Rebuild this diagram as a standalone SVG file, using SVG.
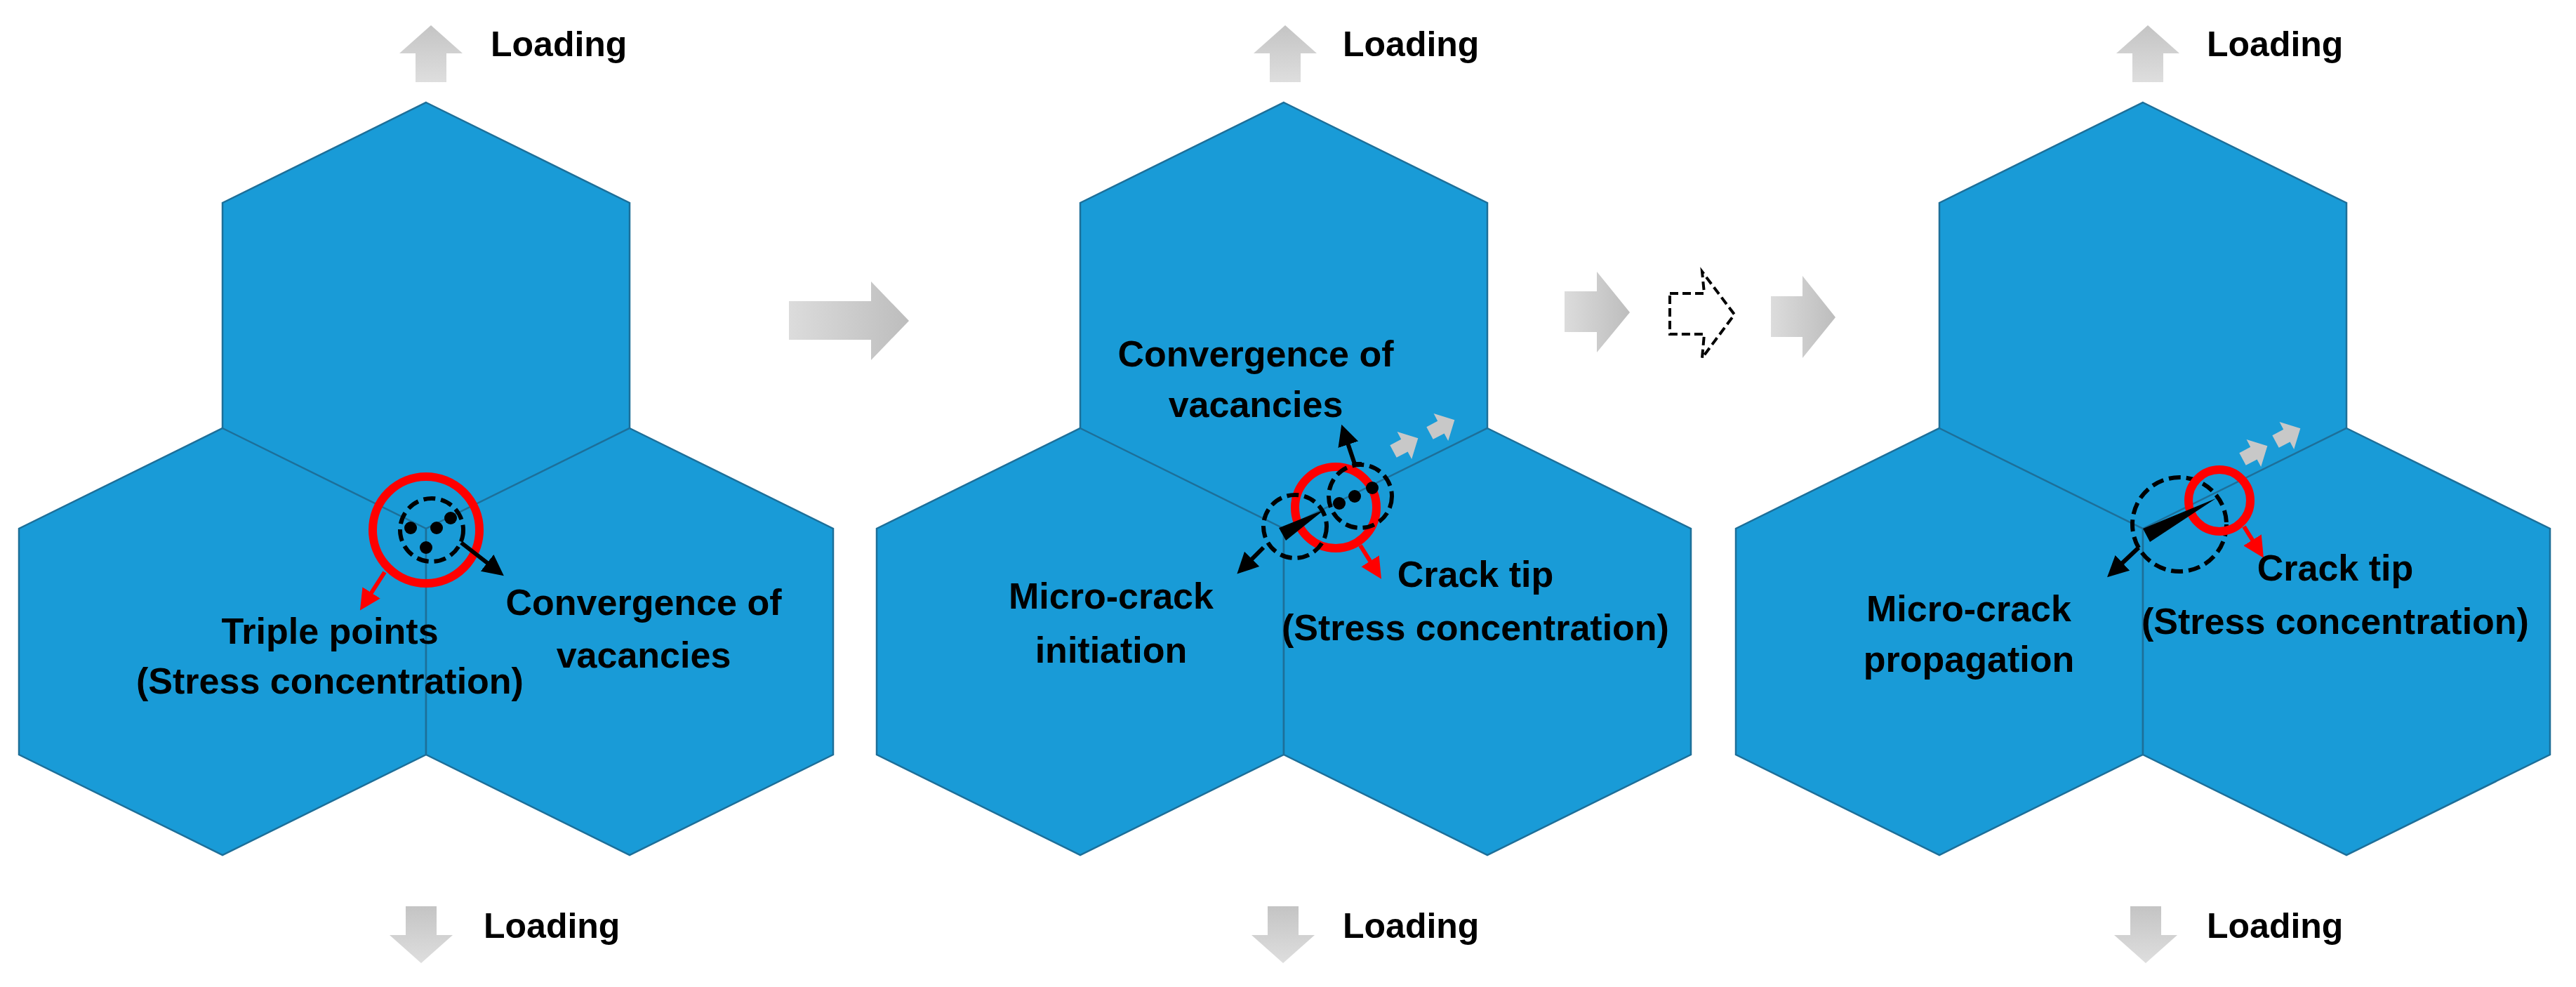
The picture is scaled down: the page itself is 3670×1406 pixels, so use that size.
<svg xmlns="http://www.w3.org/2000/svg" width="3670" height="1406" viewBox="0 0 3670 1406">
<style>
.hex{fill:#199bd7;stroke:#1d6f99;stroke-width:2.5}
.t{font-family:"Liberation Sans",Arial,sans-serif;font-weight:bold;font-size:52px;fill:#000;text-anchor:middle}
.ld{font-family:"Liberation Sans",Arial,sans-serif;font-weight:bold;font-size:50px;fill:#000}
.red{fill:none;stroke:#ff0000;stroke-width:12}
.dash{fill:none;stroke:#000;stroke-width:6;stroke-dasharray:17 8}
.ba{stroke:#000;stroke-width:6;fill:none}
.ra{stroke:#ff0000;stroke-width:6;fill:none}
.g{fill:url(#gh)}
.gv{fill:url(#gv)}
.sm{fill:#c8c8c8}
</style>
<defs>
<linearGradient id="gh" x1="0" x2="1" y1="0" y2="0"><stop offset="0" stop-color="#dcdcdc"/><stop offset="1" stop-color="#bdbdbd"/></linearGradient>
<linearGradient id="gv" x1="0" x2="0" y1="0" y2="1"><stop offset="0" stop-color="#c4c4c4"/><stop offset="1" stop-color="#dedede"/></linearGradient>
<marker id="mb" viewBox="0 0 10 10" refX="5" refY="5" markerWidth="5" markerHeight="5" orient="auto"><path d="M0,0 L10,5 L0,10 z" fill="#000"/></marker>
<marker id="mr" viewBox="0 0 10 10" refX="5" refY="5" markerWidth="5" markerHeight="5" orient="auto"><path d="M0,0 L10,5 L0,10 z" fill="#ff0000"/></marker>
<polygon id="hx" points="0,0 290,143 290,465 0,608 -290,465 -290,143"/>
<path id="upA" d="M-45,40 L0,0 L45,40 L22,40 L22,81 L-22,81 L-22,40 Z"/>
<path id="dnA" d="M-45,41 L0,81 L45,41 L22,41 L22,0 L-22,0 L-22,41 Z"/>
<path id="sa" d="M0,-10 L18,-10 L18,-22 L40,0 L18,22 L18,10 L0,10 Z"/>
</defs>

<g id="panel1">
<use href="#hx" class="hex" x="607" y="146"/>
<use href="#hx" class="hex" x="317" y="610"/>
<use href="#hx" class="hex" x="897" y="610"/>
</g>
<g id="panel2">
<use href="#hx" class="hex" x="1829" y="146"/>
<use href="#hx" class="hex" x="1539" y="610"/>
<use href="#hx" class="hex" x="2119" y="610"/>
</g>
<g id="panel3">
<use href="#hx" class="hex" x="3053" y="146"/>
<use href="#hx" class="hex" x="2763" y="610"/>
<use href="#hx" class="hex" x="3343" y="610"/>
</g>

<g id="loading">
<use href="#upA" class="gv" x="614" y="36"/><text class="ld" x="699" y="80">Loading</text>
<use href="#dnA" class="gv" x="600" y="1291"/><text class="ld" x="689" y="1336">Loading</text>
<use href="#upA" class="gv" x="1831" y="36"/><text class="ld" x="1913" y="80">Loading</text>
<use href="#dnA" class="gv" x="1828" y="1291"/><text class="ld" x="1913" y="1336">Loading</text>
<use href="#upA" class="gv" x="3060" y="36"/><text class="ld" x="3144" y="80">Loading</text>
<use href="#dnA" class="gv" x="3057" y="1291"/><text class="ld" x="3144" y="1336">Loading</text>
</g>

<g id="steps">
<path class="g" d="M1124,429 L1241,429 L1241,401 L1295,457 L1241,513 L1241,484 L1124,484 Z"/>
<path class="g" d="M2229,415 L2275,415 L2275,387 L2322,445 L2275,502 L2275,473 L2229,473 Z"/>
<path d="M2379,418 L2428,418 L2425,387 L2471,448 L2425,510 L2428,476 L2379,476 Z" fill="none" stroke="#000" stroke-width="4" stroke-dasharray="12 6"/>
<path class="g" d="M2523,422 L2568,422 L2568,393 L2615,452 L2568,510 L2568,480 L2523,480 Z"/>
</g>

<g id="detail1">
<circle class="red" cx="607" cy="755" r="76"/>
<circle class="dash" cx="615" cy="755" r="45"/>
<circle cx="585" cy="752" r="9"/><circle cx="622" cy="752" r="9"/><circle cx="642" cy="738" r="9"/><circle cx="607" cy="780" r="9"/>
<line class="ba" x1="657" y1="773" x2="706" y2="811" marker-end="url(#mb)"/>
<line class="ra" x1="548" y1="815" x2="521" y2="857" marker-end="url(#mr)"/>
<text class="t" x="470" y="917">Triple points</text>
<text class="t" x="470" y="988">(Stress concentration)</text>
<text class="t" x="917" y="876">Convergence of</text>
<text class="t" x="917" y="951">vacancies</text>
</g>

<g id="detail2">
<use href="#sa" class="sm" transform="translate(1985,643) rotate(-28)"/>
<use href="#sa" class="sm" transform="translate(2037,617) rotate(-28)"/>
<circle class="red" cx="1903" cy="723" r="58"/>
<circle class="dash" cx="1938" cy="707" r="45"/>
<circle class="dash" cx="1845" cy="750" r="45"/>
<circle cx="1908" cy="717" r="9"/><circle cx="1930" cy="707" r="9"/><circle cx="1955" cy="695" r="9"/>
<polygon points="1887,726 1822,752 1832,770"/>
<polyline class="ba" points="1940,661 1930,661 1916,619" marker-end="url(#mb)"/>
<line class="ba" x1="1800" y1="780" x2="1773" y2="807" marker-end="url(#mb)"/>
<line class="ra" x1="1938" y1="777" x2="1960" y2="812" marker-end="url(#mr)"/>
<text class="t" x="1789" y="522">Convergence of</text>
<text class="t" x="1789" y="594">vacancies</text>
<text class="t" x="1583" y="867">Micro-crack</text>
<text class="t" x="1583" y="944">initiation</text>
<text class="t" x="2102" y="836">Crack tip</text>
<text class="t" x="2102" y="912">(Stress concentration)</text>
</g>

<g id="detail3">
<use href="#sa" class="sm" transform="translate(3195,654) rotate(-28)"/>
<use href="#sa" class="sm" transform="translate(3242,629) rotate(-28)"/>
<circle class="dash" cx="3105" cy="747" r="67"/>
<circle class="red" cx="3162" cy="713" r="44"/>
<polygon points="3157,710 3053,753 3063,772"/>
<line class="ba" x1="3047" y1="780" x2="3013" y2="812" marker-end="url(#mb)"/>
<line class="ra" x1="3197" y1="750" x2="3217" y2="782" marker-end="url(#mr)"/>
<text class="t" x="2805" y="885">Micro-crack</text>
<text class="t" x="2805" y="957">propagation</text>
<text class="t" x="3327" y="827">Crack tip</text>
<text class="t" x="3327" y="903">(Stress concentration)</text>
</g>
</svg>
